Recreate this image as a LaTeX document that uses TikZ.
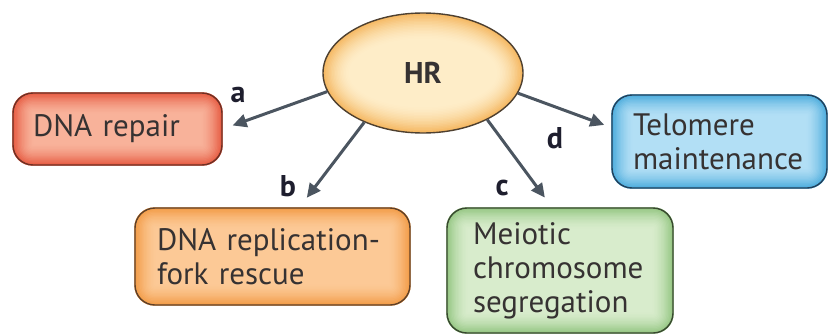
\documentclass[tikz,border=0pt]{standalone}
\usepackage{fontspec}
\setmainfont{PT Sans}
\usetikzlibrary{shapes.geometric,arrows.meta,backgrounds}
\definecolor{redin}{HTML}{F8B29A}
\definecolor{redout}{HTML}{E6583F}
\definecolor{redline}{HTML}{6E3024}
\definecolor{orin}{HTML}{FCC996}
\definecolor{orout}{HTML}{F29A44}
\definecolor{orline}{HTML}{5E4028}
\definecolor{grin}{HTML}{D8ECCC}
\definecolor{grout}{HTML}{92C580}
\definecolor{grline}{HTML}{38482F}
\definecolor{blin}{HTML}{B2DFF5}
\definecolor{blout}{HTML}{48AADC}
\definecolor{blline}{HTML}{22405A}
\definecolor{elin}{HTML}{FEEDC8}
\definecolor{elout}{HTML}{F5B862}
\definecolor{elline}{HTML}{4E4030}
\definecolor{txt}{HTML}{363232}
\definecolor{lbl}{HTML}{1E1E2E}
\definecolor{arr}{HTML}{4B5560}
\newcommand\myglowbox[2]{%
  \foreach \i in {0,...,16}{%
    \pgfmathsetmacro\d{\i*1.4}%
    \pgfmathtruncatemacro\p{100*(1-\i/16)^1.7}%
    \pgfmathsetmacro\r{max(20-\d,1)}%
    \fill[#2out!\p!#2in, rounded corners=\r pt]
      ([xshift=\d pt,yshift=\d pt]#1.south west) rectangle
      ([xshift=-\d pt,yshift=-\d pt]#1.north east);
  }}
\begin{document}
\begin{tikzpicture}[x=1pt,y=-1pt,
  procbox/.style={rounded corners=20pt, line width=1.4pt, align=left,
    font=\fontsize{31}{34}\selectfont, text=txt, inner ysep=0pt},
  hrnode/.style={ellipse, draw=elline, line width=1.4pt,
    minimum width=200pt, minimum height=120pt, inner sep=0pt,
    font=\fontsize{30}{34}\selectfont\bfseries, text=txt},
  conn/.style={draw=arr, line width=3pt, -{Triangle[length=14pt,width=13pt]}},
  lab/.style={font=\fontsize{30}{34}\selectfont\bfseries, text=lbl, inner sep=0pt}]
\useasboundingbox (0,0) rectangle (831,335);
\node[hrnode] (hr) at (423,73) {HR};
\node[procbox, draw=redline, minimum width=209pt, minimum height=72pt,
  inner xsep=20pt, text width=169pt] (rep) at (117.5,129) {DNA repair};
\node[procbox, draw=orline, minimum width=275pt, minimum height=97pt,
  inner xsep=22pt, text width=231pt] (frk) at (272.5,256.5) {DNA replication-\\fork rescue};
\node[procbox, draw=grline, minimum width=226pt, minimum height=125pt,
  inner xsep=26pt, text width=174pt] (mei) at (560,270.5) {Meiotic\\chromosome\\segregation};
\node[procbox, draw=blline, minimum width=215pt, minimum height=93pt,
  inner xsep=21pt, text width=173pt] (tel) at (719.5,141.5) {Telomere\\maintenance};
\begin{pgfonlayer}{background}
  \myglowbox{rep}{red}
  \myglowbox{frk}{or}
  \myglowbox{mei}{gr}
  \myglowbox{tel}{bl}
  \foreach \i in {0,...,18}{%
    \pgfmathsetmacro\d{\i*1.5}%
    \pgfmathtruncatemacro\p{100*(1-\i/18)^1.7}%
    \fill[elout!\p!elin] (hr.center) ellipse [x radius=100pt-\d pt, y radius=60pt-\d pt];
  }
\end{pgfonlayer}
\draw[conn, shorten >=10.5pt] (hr.191) -- (rep.east);
\draw[conn, shorten >=12pt] (hr.220) -- ([xshift=27pt]frk.north);
\draw[conn, shorten >=12pt] (hr.324) -- ([xshift=-8pt]mei.north);
\draw[conn, shorten >=7.5pt] (hr.348) -- ([yshift=14pt]tel.west);
\node[lab] (la) at (238,95) {a};
\node[lab] (lb) at (288,186) {b};
\node[lab] (lc) at (502,188) {c};
\node[lab] (ld) at (555,138) {d};
\end{tikzpicture}
\end{document}
